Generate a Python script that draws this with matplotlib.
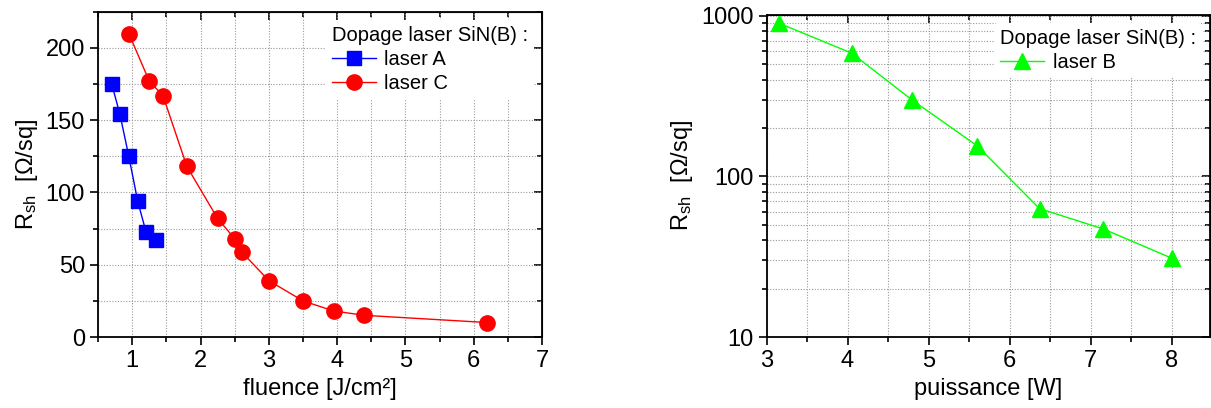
import numpy as np
import matplotlib
matplotlib.use('Agg')
from matplotlib import pyplot as plt
from matplotlib.ticker import MultipleLocator, FixedLocator, FuncFormatter, LogLocator, NullFormatter

plt.rcParams['font.family'] = ['Liberation Sans', 'DejaVu Sans']
plt.rcParams['mathtext.default'] = 'regular'

#! Data
fluence_A = [0.70, 0.82, 0.95, 1.08, 1.20, 1.35]
rsh_A = [175, 154, 125, 94, 73, 67]

fluence_C = [0.95, 1.25, 1.45, 1.80, 2.25, 2.50, 2.60, 3.00, 3.50, 3.95, 4.40, 6.20]
rsh_C = [210, 177, 167, 118, 82, 68, 59, 39, 25, 18, 15, 10]

puissance_B = [3.15, 4.05, 4.80, 5.60, 6.37, 7.16, 8.00]
rsh_B = [900, 585, 298, 155, 63, 47, 31]

legend_title = 'Dopage laser SiN(B) :'
ylabel = r'R$_{sh}$  [$\Omega$/sq]'

fig = plt.figure(figsize=(12.11, 4.08), dpi=100)
ax1 = fig.add_axes([0.081, 0.174, 0.3666, 0.797])
ax2 = fig.add_axes([0.633, 0.174, 0.3665, 0.79])


def style(ax):
    ax.tick_params(which='both', direction='out', top=False, right=False, labelsize=17, width=1.2)
    ax.tick_params(which='major', length=6)
    ax.tick_params(which='minor', length=3.5)
    # mirrored ticks pointing inward, no labels
    sx = ax.secondary_xaxis('top')
    sy = ax.secondary_yaxis('right')
    sx.tick_params(which='both', direction='in', labeltop=False, width=1.2)
    sy.tick_params(which='both', direction='in', labelright=False, width=1.2)
    for s in (sx, sy):
        s.tick_params(which='major', length=6)
        s.tick_params(which='minor', length=3.5)
    for sp in ax.spines.values():
        sp.set_linewidth(1.3)
    ax.grid(True, which='both', linestyle=(0, (1, 1.5)), color='#9a9a9a', linewidth=0.8)
    ax.set_axisbelow(True)
    return sx, sy


def legend(ax, pad):
    leg = ax.legend(title=legend_title, loc='upper right', frameon=True, fontsize=14.5,
                    title_fontsize=14.5, handlelength=2.2, handletextpad=0.4,
                    labelspacing=0.25, borderaxespad=pad, borderpad=0.3)
    leg.get_frame().set_edgecolor('none')
    leg.get_frame().set_alpha(1)
    leg._legend_box.align = 'left'
    return leg


#! Left: fluence
ax1.plot(fluence_A, rsh_A, '-s', color='blue', markersize=10, linewidth=1, label='laser A')
ax1.plot(fluence_C, rsh_C, '-o', color='red', markersize=11, linewidth=1, label='laser C')
ax1.set_xlim(0.5, 7)
ax1.set_ylim(0, 225)
ax1.xaxis.set_major_locator(MultipleLocator(1))
ax1.xaxis.set_minor_locator(MultipleLocator(0.5))
ax1.yaxis.set_major_locator(MultipleLocator(50))
ax1.yaxis.set_minor_locator(MultipleLocator(25))
sx, sy = style(ax1)
sx.xaxis.set_major_locator(MultipleLocator(1))
sx.xaxis.set_minor_locator(MultipleLocator(0.5))
sy.yaxis.set_major_locator(MultipleLocator(50))
sy.yaxis.set_minor_locator(MultipleLocator(25))
ax1.set_xlabel('fluence [J/cm²]', fontsize=17)
ax1.set_ylabel(ylabel, fontsize=17)
legend(ax1, 0.4)

#! Right: puissance
ax2.plot(puissance_B, rsh_B, '-^', color='#00ff00', markersize=11, linewidth=1, label='laser B')
ax2.set_yscale('log')
ax2.set_xlim(3, 8.48)
ax2.set_ylim(10, 1015)
ax2.xaxis.set_major_locator(MultipleLocator(1))
ax2.xaxis.set_minor_locator(MultipleLocator(0.5))
ax2.yaxis.set_major_locator(FixedLocator([10, 100, 1000]))
ax2.yaxis.set_major_formatter(FuncFormatter(lambda v, p: '%d' % v))
ax2.yaxis.set_minor_locator(LogLocator(base=10, subs=np.arange(2, 10)))
ax2.yaxis.set_minor_formatter(NullFormatter())
sx, sy = style(ax2)
sx.xaxis.set_major_locator(MultipleLocator(1))
sx.xaxis.set_minor_locator(MultipleLocator(0.5))
sy.yaxis.set_major_locator(FixedLocator([10, 100, 1000]))
sy.yaxis.set_minor_locator(LogLocator(base=10, subs=np.arange(2, 10)))
sy.yaxis.set_minor_formatter(NullFormatter())
ax2.set_xlabel('puissance [W]', fontsize=17)
ax2.set_ylabel(ylabel, fontsize=17)
legend(ax2, 0.4)

plt.savefig('out.png', dpi=100)
